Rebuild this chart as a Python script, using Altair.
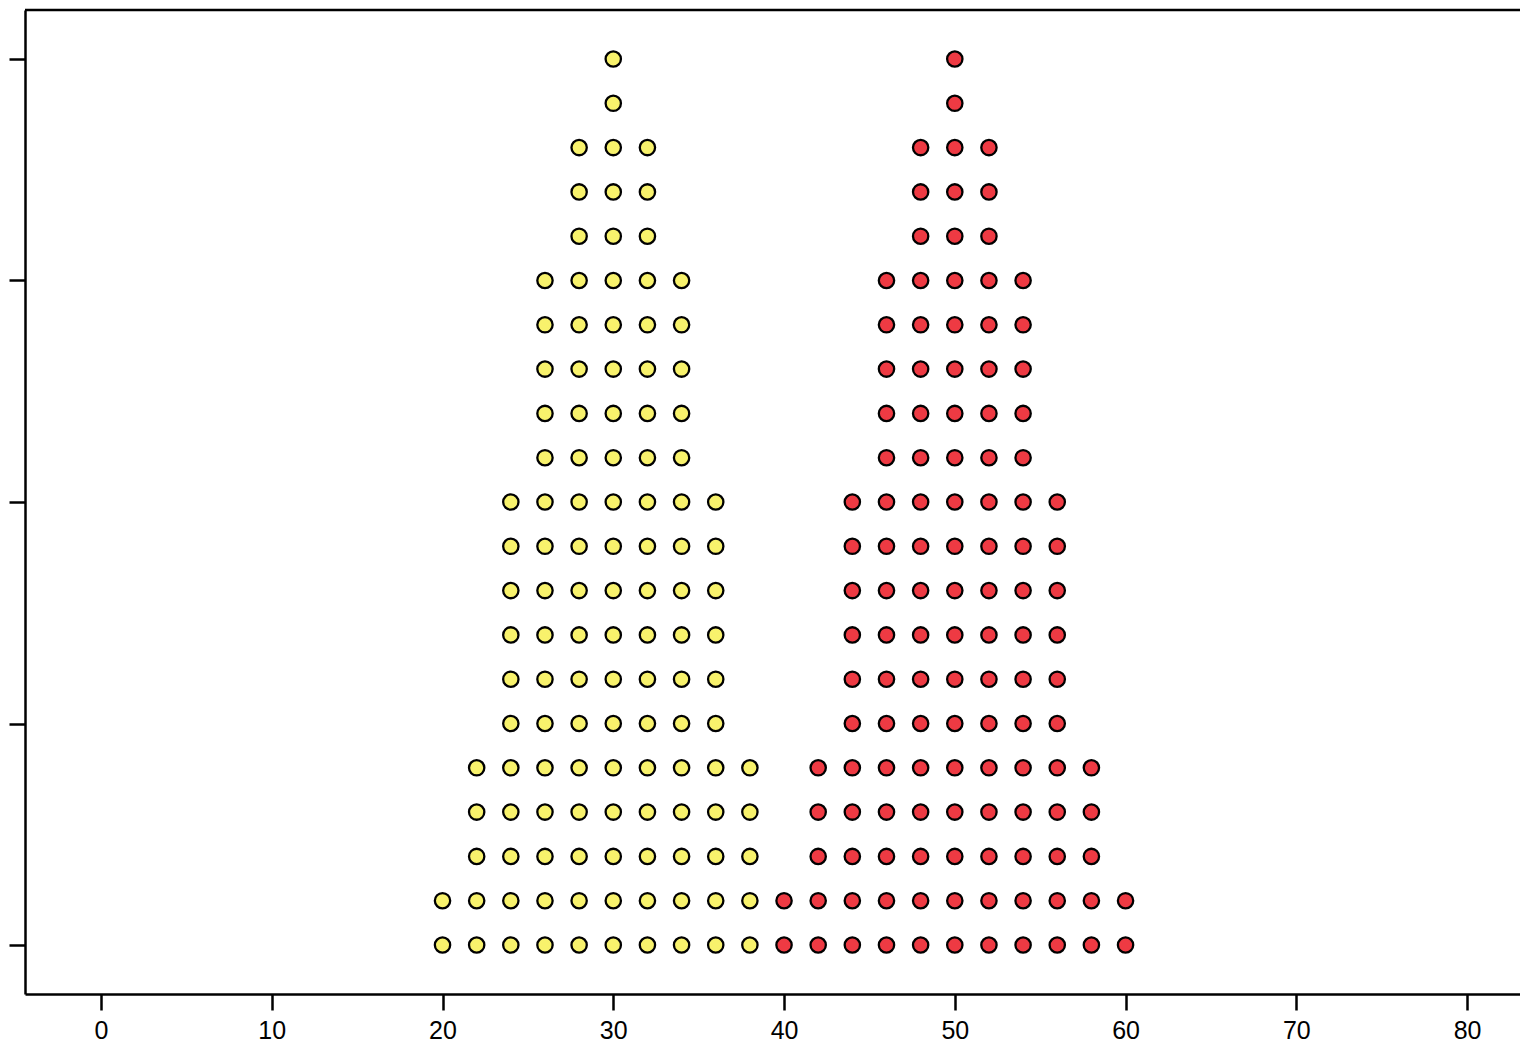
import altair as alt
import pandas as pd

# Column positions and stack heights (number of dots) for each group
yellow_x = [20, 22, 24, 26, 28, 30, 32, 34, 36, 38]
yellow_n = [2, 5, 11, 16, 19, 21, 19, 16, 11, 5]
red_x = [40, 42, 44, 46, 48, 50, 52, 54, 56, 58, 60]
red_n = [2, 5, 11, 16, 19, 21, 19, 16, 11, 5, 2]
x_ticks = [0, 10, 20, 30, 40, 50, 60, 70, 80]
y_ticks = [0, 5, 10, 15, 20]

rows = []
for xs, ns, g in [(yellow_x, yellow_n, "yellow"), (red_x, red_n, "red")]:
    for x, n in zip(xs, ns):
        for k in range(n):
            rows.append({"x": x, "y": k, "group": g})
df = pd.DataFrame(rows)

W, H = 1495, 984

points = alt.Chart(df).mark_point(
    shape="circle", filled=True, size=235, stroke="black", strokeWidth=2.3, opacity=1
).encode(
    x=alt.X("x:Q", scale=alt.Scale(domain=[-4.451, 83.10], nice=False, zero=False),
            axis=alt.Axis(values=x_ticks, title=None, grid=False, tickSize=16, tickWidth=2.5,
                          tickColor="black", domainColor="black", domainWidth=2.5,
                          labelFontSize=25, labelFont="Liberation Sans", labelColor="black",
                          labelPadding=8, labelFlush=False)),
    y=alt.Y("y:Q", scale=alt.Scale(domain=[-1.106, 21.106], nice=False, zero=False),
            axis=alt.Axis(values=y_ticks, title=None, grid=False, labels=False, tickSize=16,
                          tickWidth=2.5, tickColor="black", domainColor="black", domainWidth=2.5)),
    fill=alt.Fill("group:N", scale=alt.Scale(domain=["yellow", "red"], range=["#F8F26C", "#EE3A43"]),
                  legend=None),
)

top_line = alt.Chart(pd.DataFrame({"a": [0]})).mark_rule(color="black", strokeWidth=2.5).encode(
    x=alt.value(0), x2=alt.value(W), y=alt.value(0)
)

chart = alt.layer(points, top_line).properties(
    width=W, height=H,
    autosize=alt.AutoSizeParams(type="none"),
    padding={"left": 17, "top": 2, "right": 0, "bottom": 50},
).configure_view(stroke=None)

chart.save("out.html", embed_options={"renderer": "svg", "actions": False})
